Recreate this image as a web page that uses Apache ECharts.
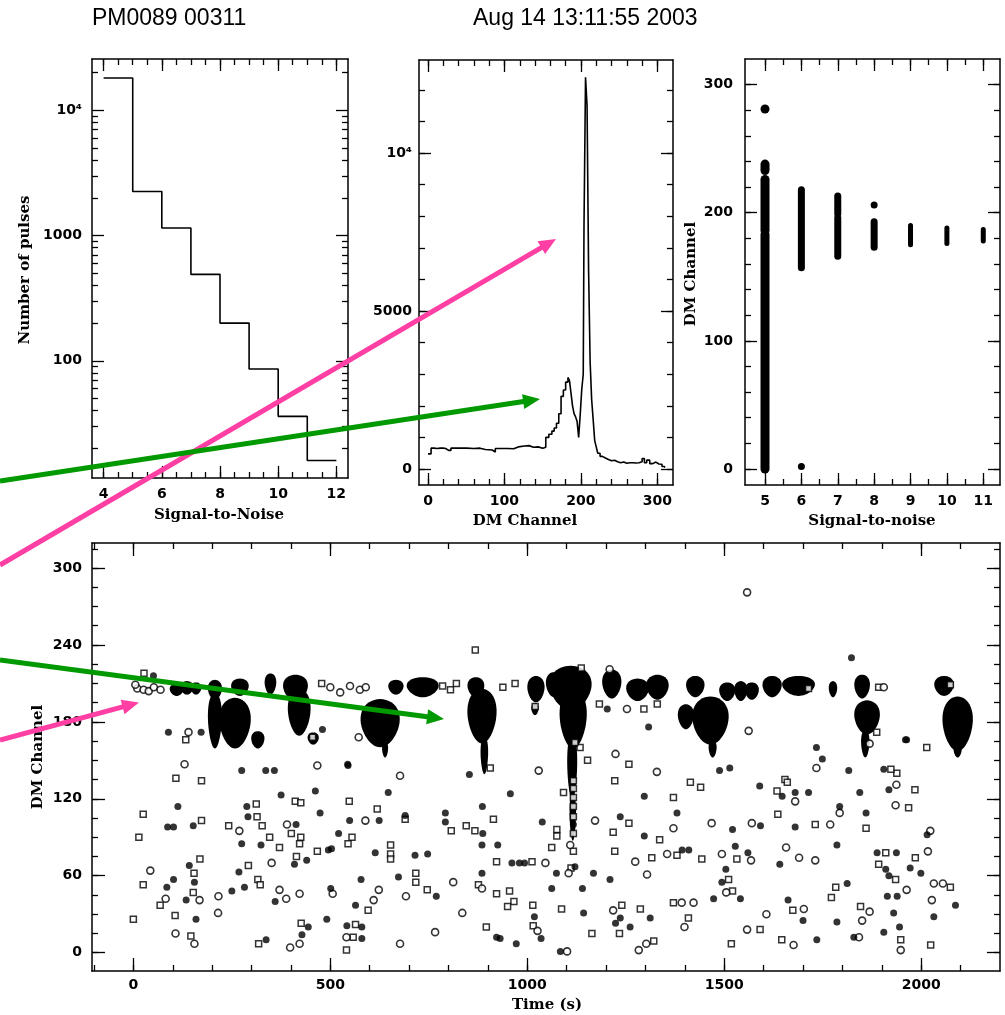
<!DOCTYPE html>
<html><head><meta charset="utf-8">
<script src="https://cdn.jsdelivr.net/npm/echarts@6/dist/echarts.min.js"></script>
<style>html,body{margin:0;padding:0;background:#fff}#c{width:1005px;height:1015px}</style>
</head><body><div id="c"></div>
<script>
// ---------------- DATA ----------------
// Panel 1: histogram of signal-to-noise (bin edges / counts)
const snrEdges = [4, 5, 6, 7, 8, 9, 10, 11, 12];
const pulseCounts = [18100, 2250, 1150, 490, 200, 86, 36, 16];
const p1XTicks = [4, 6, 8, 10, 12];
const p1YTickCounts = [100, 1000, 10000];

// Panel 2: number of pulses per DM channel (step histogram)
const dmChan = [0,4,8,12,16,20,23,27,30,40,50,60,68,75,84,88,96,104,112,118,126,132,138,144,150,154,158,162,165,168,171,174,177,180,183,185,187,189,191,193,195,197,199,201,203,204,206,208,210,212,214,216,218,220,222,225,228,232,236,240,244,248,252,256,260,264,268,272,276,280,283,286,290,294,298,302,306,309];
const dmCount = [480,660,650,660,660,650,590,590,660,660,650,660,620,600,540,650,650,640,700,730,740,690,700,660,690,1000,1100,1200,1300,1450,1750,2300,2500,2750,2900,2800,2400,2000,1750,1650,1500,1000,1700,2500,3000,7700,12400,11500,6300,3400,2200,1560,900,700,500,400,350,300,260,280,230,200,220,180,200,200,190,200,230,330,200,280,170,220,160,150,80,50];
const p2XTicks = [0, 100, 200, 300];
const p2YTicks = [0, 5000, 10000];

// Panel 3: DM channel ranges of pulses per S/N value
const snrCol = [5, 5, 5, 5, 6, 6, 7, 7, 8, 8, 9, 10, 11];
const dmLow  = [0, 186, 233, 281, 157, 2, 166, 199, 206, 173, 175, 176, 178];
const dmHigh = [183, 226, 238, 281, 218, 2, 196, 213, 206, 193, 190, 188, 187];
const p3XTicks = [5, 6, 7, 8, 9, 10, 11];
const p3YTicks = [0, 100, 200, 300];

// Panel 4: single pulses, time (s) vs DM channel
const squarePulses = [[133,166],[108,136],[173,134],[548,118],[411,118],[425,117],[312,116],[314,106],[25,108],[173,103],[14,90],[242,99],[327,99],[346,90],[401,93],[425,90],[422,85],[371,82],[555,90],[545,85],[619,112],[690,104],[807,95],[845,99],[867,95],[914,104],[653,84],[653,77],[653,73],[922,71],[467,79],[414,75],[292,68],[169,73],[154,62],[25,53],[68,37],[152,47],[106,29],[0,26],[146,13],[316,57],[322,53],[318,7],[426,23],[564,22],[558,12],[541,2],[596,33],[717,55],[717,62],[746,49],[876,53],[896,20],[922,46],[868,236],[27,218],[455,168],[906,144],[478,210],[785,208],[805,205],[820,210],[938,207],[969,210],
[1137,222],[1020,192],[1330,194],[1183,194],[2014,160],[1887,172],[1134,160],[1121,164],[1153,150],[1258,147],[1222,134],[1414,133],[1440,129],[1092,125],[1117,134],[1117,128],[1117,121],[1117,114],[1117,106],[1117,93],[1371,121],[1634,126],[1654,135],[1636,108],[1860,97],[1938,140],[1923,143],[1984,127],[1968,113],[2074,51],[2024,6],[1948,10],[1935,57],[1892,69],[1910,78],[1985,74],[1846,36],[1783,51],[1772,43],[1731,100],[1674,33],[1646,10],[1591,18],[1518,7],[1521,48],[1511,57],[1532,73],[1443,73],[1380,76],[1371,39],[1409,27],[1316,74],[1336,88],[1258,101],[1218,94],[1222,79],[1164,15],[1240,37],[1234,15],[1287,34],[1321,9],[1075,96],[1075,91],[1062,82],[1117,79],[1111,66],[1012,71],[955,48],[966,40],[950,36],[1014,37],[1087,34],[1015,21],[1296,190],[1660,133],[1892,207],[1714,206],[2074,209]];
const filledPulses = [[89,172],[172,172],[275,142],[336,142],[358,142],[545,146],[647,125],[462,126],[375,123],[288,114],[291,106],[113,114],[87,98],[102,98],[152,99],[275,85],[324,84],[413,100],[474,109],[521,93],[549,103],[624,103],[690,107],[792,109],[792,102],[887,93],[886,114],[614,78],[715,76],[747,77],[885,84],[925,84],[495,80],[503,81],[440,72],[409,69],[268,63],[142,68],[102,57],[85,51],[155,55],[134,41],[159,26],[250,48],[282,51],[360,40],[337,10],[428,14],[444,20],[491,26],[501,50],[542,21],[580,20],[580,11],[564,37],[578,57],[673,59],[769,44],[885,62],[922,12],[51,216],[480,174],[853,139],[544,147],
[1823,230],[1203,190],[1308,176],[1963,166],[1734,160],[1749,151],[1816,142],[1905,143],[1297,122],[1380,109],[1590,130],[1647,122],[1680,125],[1714,125],[1793,114],[1844,125],[1860,109],[1918,127],[2015,92],[2087,37],[2032,28],[1945,20],[1905,16],[1930,31],[1914,44],[1939,44],[1910,65],[1918,60],[1888,78],[1937,78],[1972,66],[1999,62],[1829,12],[1812,54],[1786,24],[1786,84],[1680,98],[1641,69],[1662,41],[1700,25],[1735,10],[1541,42],[1494,55],[1473,42],[1504,65],[1528,83],[1560,78],[1521,96],[1592,99],[1410,80],[1393,80],[1297,91],[1236,106],[1210,57],[1168,62],[1140,50],[1143,31],[1224,23],[1236,27],[1261,20],[1312,27],[1121,67],[1074,62],[1038,102],[961,70],[980,70],[993,70],[1062,50],[1018,28],[931,11],[972,7],[1035,11],[1084,1],[957,124],[1488,142],[1514,144],[1960,166],[1117,100]];
const openCirclePulses = [[140,172],[130,147],[467,146],[677,138],[269,95],[390,100],[589,103],[351,70],[43,64],[82,42],[168,41],[107,15],[155,7],[216,44],[215,31],[371,49],[388,42],[422,46],[398,4],[422,7],[506,46],[541,12],[610,41],[623,49],[692,44],[677,7],[766,16],[835,31],[812,55],[885,50],[572,168],[1029,142],[10,206],[26,205],[39,204],[52,207],[69,205],[5,209],[500,207],[525,203],[550,208],[575,205],[590,207],
[1558,281],[1209,221],[1253,190],[1562,173],[1869,163],[1734,144],[1224,155],[1329,141],[1371,97],[1680,118],[1793,109],[1937,131],[1935,115],[2023,95],[2017,79],[2032,54],[2055,54],[2027,41],[1948,2],[1963,49],[1869,32],[1842,12],[1850,25],[1769,100],[1657,82],[1690,74],[1731,72],[1702,34],[1676,6],[1607,30],[1558,18],[1505,47],[1494,77],[1568,72],[1570,101],[1468,101],[1355,77],[1392,39],[1422,39],[1399,20],[1274,71],[1304,61],[1172,103],[1218,33],[1283,2],[1302,7],[1109,84],[1105,62],[1046,70],[1026,17],[1101,1],[1905,207]];
// dense clusters of strong pulses: [tStart, tEnd, dmLow, dmHigh]
const pulseClusters = [
 [95,125,201,209],[122,150,202,211],[148,170,202,210],[192,222,198,212],[251,290,201,213],[336,360,202,217],
 [383,440,197,216],[395,447,170,205],[445,468,163,171],[650,683,202,212],[697,772,200,214],[851,888,200,214],
 [1003,1041,196,215],[1013,1026,186,194],[1050,1086,200,218],[1060,1160,190,223],[1085,1148,160,205],[1104,1124,120,170],[1110,1121,88,125],
 [1193,1236,199,220],[1254,1306,197,213],[1305,1356,198,216],[1406,1447,200,215],[1490,1525,197,210],[1528,1556,197,211],
 [1555,1585,198,210],[1600,1643,200,215],[1650,1727,201,215],[1768,1784,200,211],[1833,1867,199,216],[2036,2080,201,215],
 [192,222,160,202],[221,295,160,198],[302,330,160,172],[580,673,161,197],[634,644,153,164],[851,919,164,205],
 [884,898,140,168],[1422,1508,163,199],[1463,1478,153,165],[1385,1420,175,193],[1833,1892,171,196],[1850,1866,153,173],
 [2057,2128,158,199],[2085,2100,153,162]
];
const p4XTicks = [0, 500, 1000, 1500, 2000];
const p4YTicks = [0, 60, 120, 180, 240, 300];

// ---------------- BUILD ----------------
const TICK_FONT = 'DejaVu Sans';
const TITLE_FONT = 'DejaVu Serif';
function range(a, b, s) { const r = []; for (let v = a; v <= b + 1e-9; v += s) r.push(+v.toFixed(6)); return r; }

const xAxes = [], yAxes = [];
function addAxes(list, grid, dim, min, max, major, minor, labels, fmt, margin, majLen) {
  const start = list.length;
  const pos = dim === 'x' ? ['bottom', 'top'] : ['left', 'right'];
  pos.forEach((p, i) => {
    list.push({type: 'value', gridIndex: grid, position: p, min: min, max: max,
      splitLine: {show: false},
      axisLine: {show: true, onZero: false, lineStyle: {color: '#000', width: 1.5}},
      axisTick: {show: true, inside: true, length: majLen, customValues: major, lineStyle: {color: '#000', width: 1.3}},
      axisLabel: i === 0 ? {show: true, customValues: labels, formatter: fmt, margin: margin, color: '#000',
        fontFamily: TICK_FONT, fontSize: 14, fontWeight: 'bold'} : {show: false}
    });
    list.push({type: 'value', gridIndex: grid, position: p, min: min, max: max,
      splitLine: {show: false},
      axisLine: {show: false, onZero: false},
      axisTick: {show: true, inside: true, length: 6, customValues: minor, lineStyle: {color: '#000', width: 1.3}},
      axisLabel: {show: false}
    });
  });
  return start;
}
const plain = v => String(v);

// panel 1 (log counts on a log10 value axis)
const p1YMajor = p1YTickCounts.map(v => Math.log10(v));
const p1YMinor = [];
[10, 100, 1000, 10000].forEach(d => { for (let k = 2; k <= 9; k++) { const l = Math.log10(k * d); if (l > 1.064 && l < 4.41) p1YMinor.push(l); } });
const p1x = addAxes(xAxes, 0, 'x', 3.6, 12.4, p1XTicks, range(4, 12, 0.5), p1XTicks, plain, 9.5, 12);
const p1y = addAxes(yAxes, 0, 'y', 1.064, 4.41, p1YMajor, p1YMinor, p1YMajor,
  v => Math.abs(v - 4) < 1e-6 ? '10\u2074' : String(Math.round(Math.pow(10, v))), 10, 12);
// panel 2
const p2x = addAxes(xAxes, 1, 'x', -11.8, 320.4, p2XTicks, range(0, 300, 20), p2XTicks, plain, 9.5, 12);
const p2y = addAxes(yAxes, 1, 'y', -506, 12945, p2YTicks, range(0, 12000, 1000), p2YTicks,
  v => v === 10000 ? '10\u2074' : String(v), 7, 12);
// panel 3
const p3x = addAxes(xAxes, 2, 'x', 4.45, 11.46, p3XTicks, range(5, 11, 0.5), p3XTicks, plain, 9.5, 12);
const p3y = addAxes(yAxes, 2, 'y', -12.5, 320, p3YTicks, range(0, 300, 20), p3YTicks, plain, 12, 12);
// panel 4
const p4x = addAxes(xAxes, 3, 'x', -105, 2200, p4XTicks, range(-100, 2100, 100), p4XTicks, plain, 7.5, 13);
const p4y = addAxes(yAxes, 3, 'y', -14.3, 319.5, p4YTicks, range(0, 315, 15), p4YTicks, plain, 10, 13);

// step data
const p1Data = [];
pulseCounts.forEach((c, i) => { p1Data.push([snrEdges[i], Math.log10(c)]); p1Data.push([snrEdges[i + 1], Math.log10(c)]); });
const p2Data = [];
dmCount.forEach((c, i) => { const x1 = i + 1 < dmChan.length ? dmChan[i + 1] : 310; p2Data.push([dmChan[i], c]); p2Data.push([x1, c]); });
const p3Data = snrCol.map((s, i) => [s, dmLow[i], dmHigh[i]]);

function arrow(x0, y0, x1, y1, color, w) {
  const dx = x1 - x0, dy = y1 - y0, L = Math.hypot(dx, dy), ux = dx / L, uy = dy / L;
  const hl = 17, hw = 7.5, bx = x1 - ux * hl, by = y1 - uy * hl;
  return [
    {type: 'line', z: 100, shape: {x1: x0, y1: y0, x2: bx + ux * 2, y2: by + uy * 2}, style: {stroke: color, lineWidth: w}},
    {type: 'polygon', z: 100, shape: {points: [[x1, y1], [bx - uy * hw, by + ux * hw], [bx + uy * hw, by - ux * hw]]}, style: {fill: color}}
  ];
}
function txt(text, x, y, size, family, weight, rot, align) {
  return {type: 'text', x: x, y: y, rotation: rot || 0, z: 50,
    style: {text: text, fill: '#000', fontSize: size, fontFamily: family, fontWeight: weight,
      align: align || 'center', textAlign: align || 'center', verticalAlign: 'middle', textVerticalAlign: 'middle'}};
}

const PINK = '#ff3fa4', GREEN = '#009900';
const graphics = [
  txt('PM0089 00311', 92, 19, 23, 'Liberation Sans', 'normal', 0, 'left'),
  txt('Aug 14 13:11:55 2003', 473, 19, 23, 'Liberation Sans', 'normal', 0, 'left'),
  txt('Signal-to-Noise', 219, 515, 15, TITLE_FONT, 'bold'),
  txt('Number of pulses', 25, 270, 15, TITLE_FONT, 'bold', Math.PI / 2),
  txt('DM Channel', 525, 521, 15, TITLE_FONT, 'bold'),
  txt('Signal-to-noise', 872, 521, 15, TITLE_FONT, 'bold'),
  txt('DM Channel', 691, 274, 15, TITLE_FONT, 'bold', Math.PI / 2),
  txt('DM Channel', 38, 757, 15, TITLE_FONT, 'bold', Math.PI / 2),
  txt('Time (s)', 547, 1005, 15, TITLE_FONT, 'bold')
].concat(
  arrow(0, 565, 556, 239, PINK, 5),
  arrow(0, 481, 540, 399, GREEN, 5),
  arrow(0, 740, 139, 702.5, PINK, 5),
  arrow(0, 660, 444, 719, GREEN, 5)
);

const option = {
  animation: false,
  backgroundColor: '#fff',
  grid: [
    {left: 92, top: 59, width: 256, height: 419},
    {left: 419, top: 60, width: 254, height: 425},
    {left: 745, top: 59, width: 255, height: 426},
    {left: 92, top: 543, width: 908, height: 428}
  ],
  xAxis: xAxes,
  yAxis: yAxes,
  graphic: graphics,
  series: [
    {type: 'line', xAxisIndex: p1x, yAxisIndex: p1y, data: p1Data, symbol: 'none', lineStyle: {color: '#000', width: 1.6}},
    {type: 'line', xAxisIndex: p2x, yAxisIndex: p2y, data: p2Data, symbol: 'none', lineStyle: {color: '#000', width: 1.6}},
    {type: 'custom', xAxisIndex: p3x, yAxisIndex: p3y, data: p3Data, encode: {x: 0, y: [1, 2]},
      renderItem: function (params, api) {
        const s = api.value(0), p0 = api.coord([s, api.value(1)]), p1 = api.coord([s, api.value(2)]);
        const w = s === 5 ? 9 : (s >= 9 ? 5 : 7);
        const top = Math.min(p0[1], p1[1]) - w / 2, h = Math.abs(p0[1] - p1[1]) + w;
        return {type: 'rect', shape: {x: p0[0] - w / 2, y: top, width: w, height: h, r: w / 2}, style: {fill: '#000'}};
      }},
    {type: 'scatter', xAxisIndex: p4x, yAxisIndex: p4y, data: squarePulses, symbol: 'rect', symbolSize: 6,
      itemStyle: {color: '#fff', borderColor: '#000', borderWidth: 1.5}},
    {type: 'scatter', xAxisIndex: p4x, yAxisIndex: p4y, data: openCirclePulses, symbol: 'circle', symbolSize: 7,
      itemStyle: {color: '#fff', borderColor: '#000', borderWidth: 1.6}},
    {type: 'scatter', xAxisIndex: p4x, yAxisIndex: p4y, data: filledPulses, symbol: 'circle', symbolSize: 7,
      itemStyle: {color: '#000'}},
    {type: 'custom', xAxisIndex: p4x, yAxisIndex: p4y, data: pulseClusters, encode: {x: [0, 1], y: [2, 3]},
      renderItem: function (params, api) {
        const t0 = api.value(0), t1 = api.value(1), d0 = api.value(2), d1 = api.value(3);
        const c = api.coord([(t0 + t1) / 2, (d0 + d1) / 2]), a = api.coord([t1, d1]);
        const rx = Math.abs(a[0] - c[0]) + 1, ry = Math.abs(a[1] - c[1]) + 1;
        const pts = [];
        // egg-like outline: a little wider at the top, narrower at the bottom
        for (let k = 0; k < 48; k++) {
          const th = k / 48 * Math.PI * 2, sy = Math.sin(th);
          pts.push([c[0] + rx * Math.cos(th) * (1 - 0.18 * sy), c[1] + ry * sy]);
        }
        return {type: 'polygon', shape: {points: pts}, style: {fill: '#000'}};
      }}
  ]
};
const chart = echarts.init(document.getElementById('c'));
chart.setOption(option);
</script>
</body></html>
